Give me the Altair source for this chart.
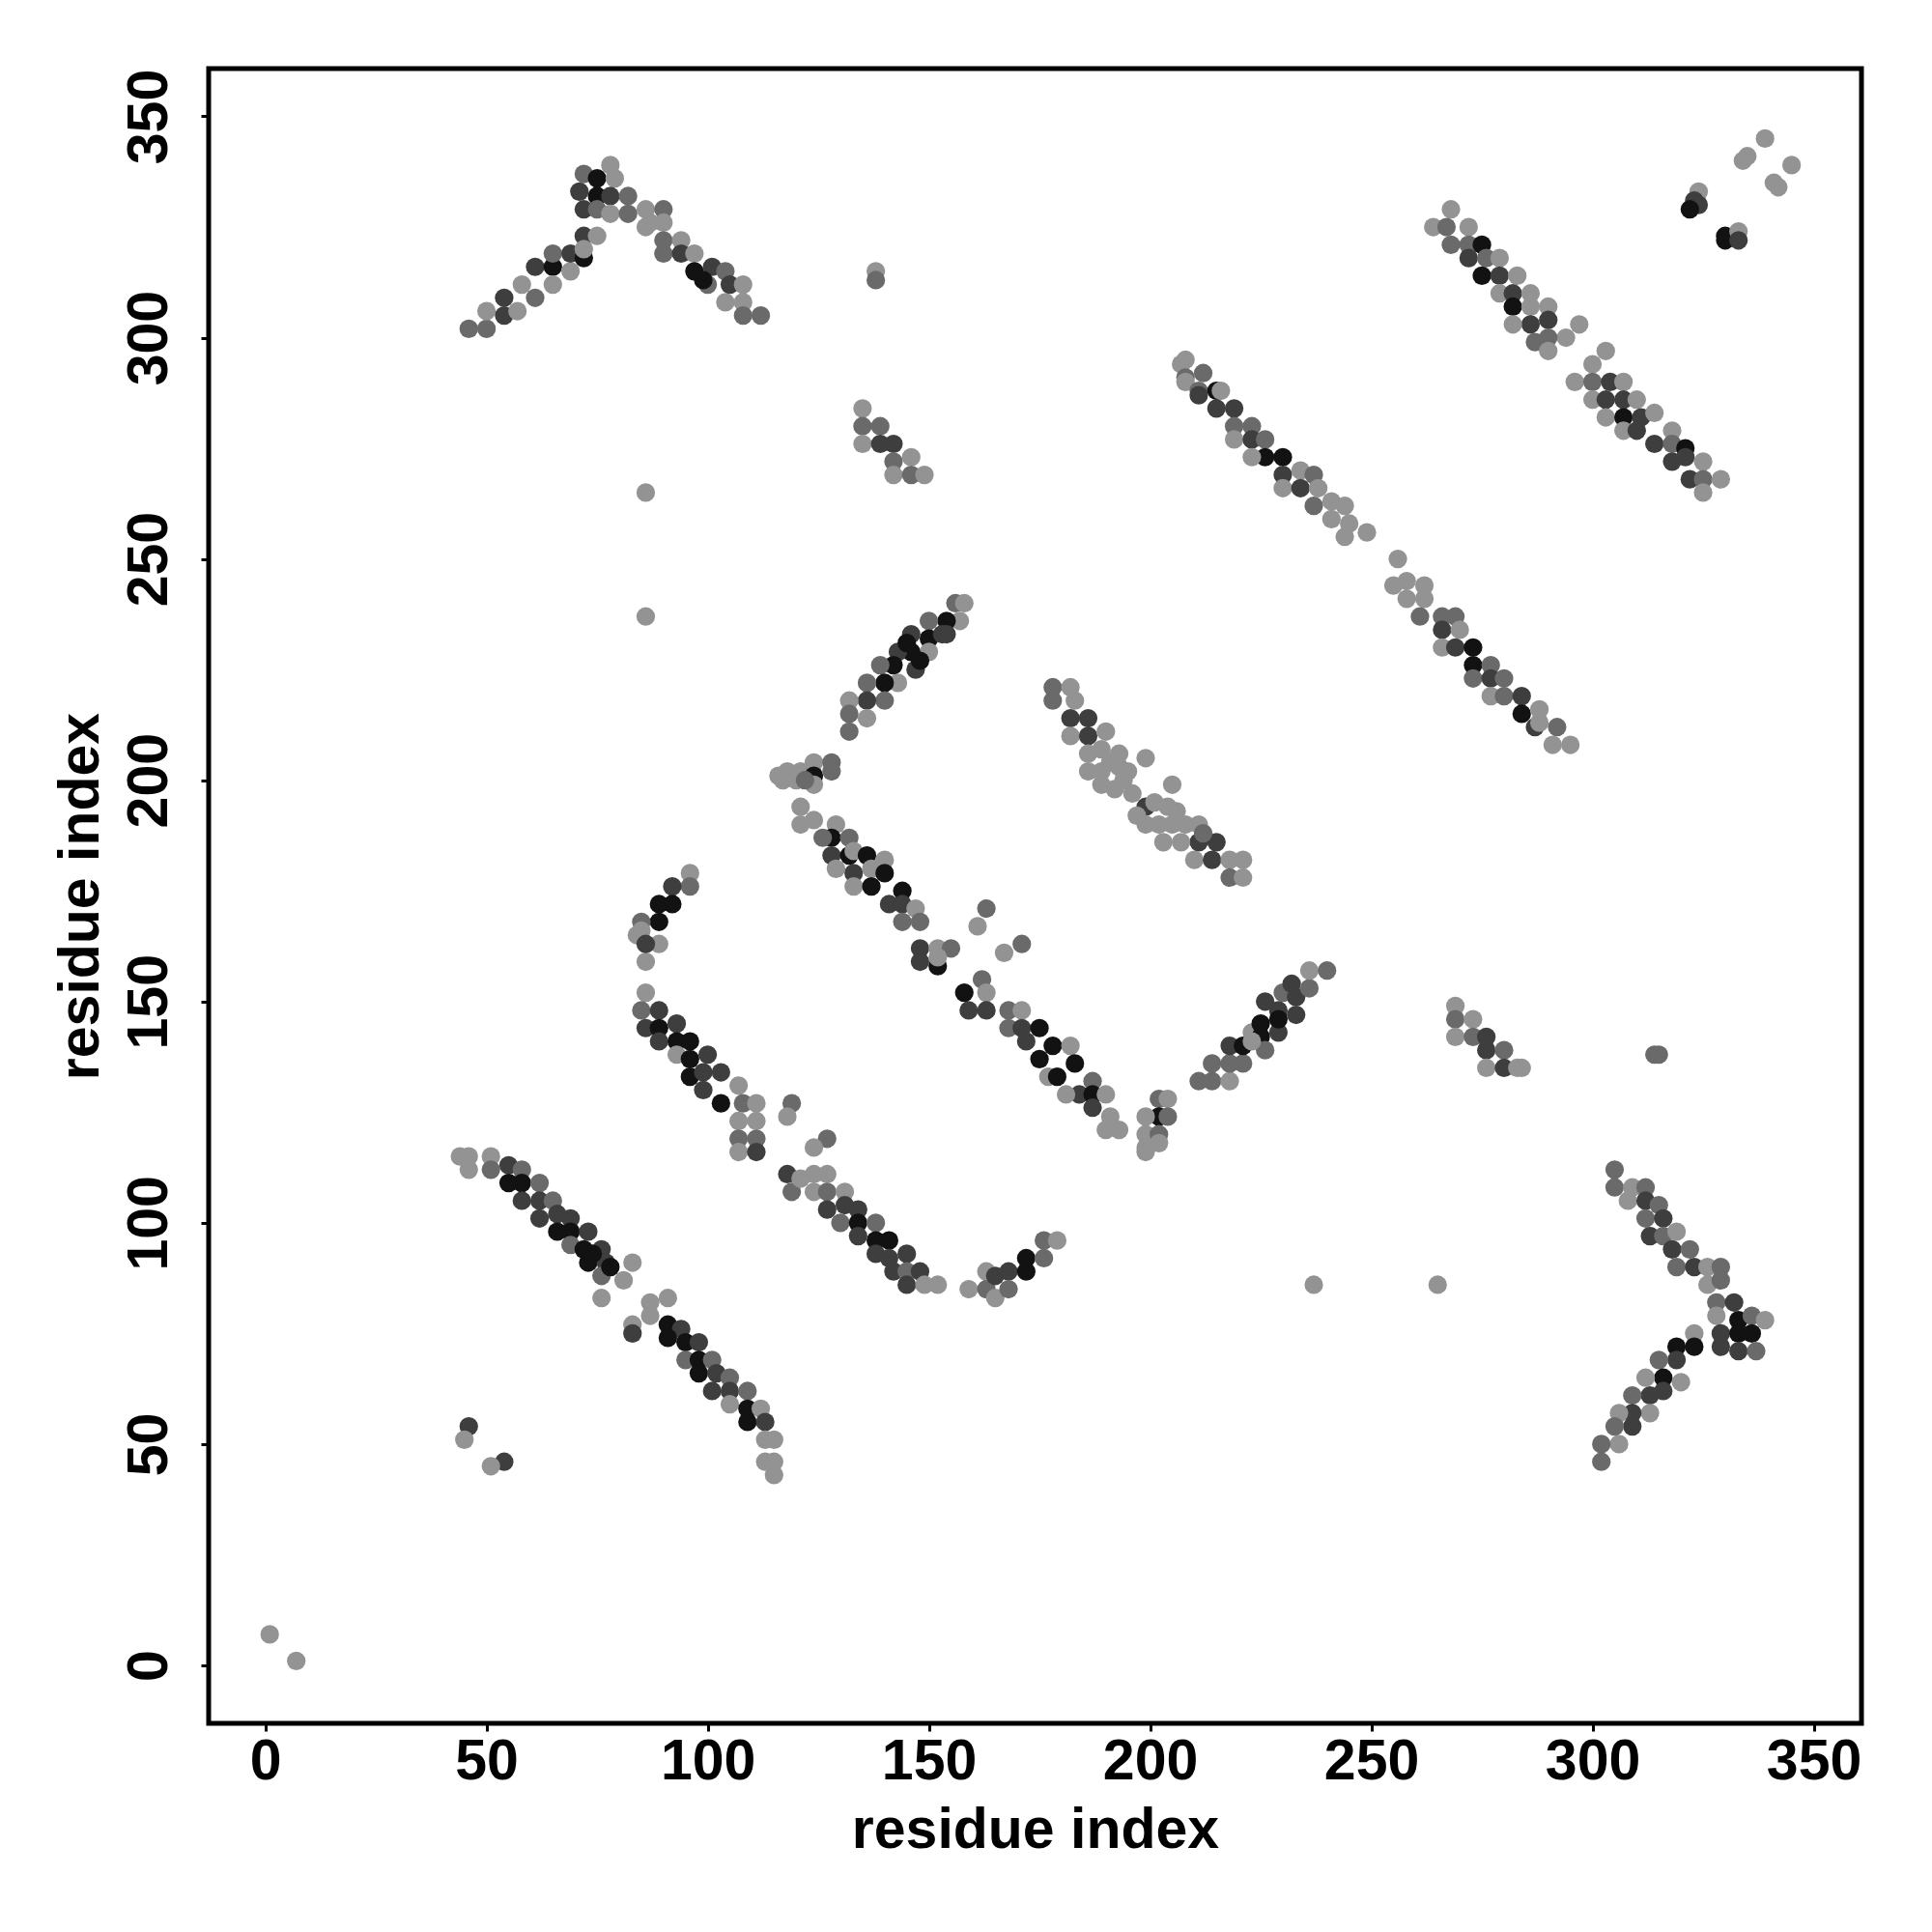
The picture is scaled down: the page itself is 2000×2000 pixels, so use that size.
import altair as alt
import pandas as pd

# contact points: (residue i, residue j, shade level 1=light .. 4=black)
c_top_left = [(46,302,2),(50,302,2),(50,306,1),(54,305,3),(54,309,3),(57,306,1),(58,312,1),(61,309,2),(61,316,3),(65,316,4),(65,319,2),(65,312,1),(69,315,1),(69,319,3),(72,318,4),(72,323,3),(75,323,1),(72,320,1),
              (72,337,2),(75,336,4),(71,333,3),(75,332,4),(78,339,1),(79,336,1),(78,332,3),(82,332,2),(72,329,3),(75,329,2),(78,328,1),(82,328,2),(86,329,1),(90,329,2),(87,326,1),(90,326,1),(86,325,1),
              (90,322,2),(90,319,2),(94,322,1),(94,319,3),(97,319,1),(97,315,4),(101,316,3),(100,312,2),(104,315,2),(105,312,3),(108,312,1),(104,308,1),(108,308,1),(108,305,2),(112,305,2),(99,313,4)]
c_small_a = [(135,284,1),(135,280,2),(135,276,1),(139,280,2),(139,276,3),(142,276,3),(142,272,2),(146,273,1),(142,269,1),(146,269,2),(149,269,1),
             (138,315,1),(138,313,2),(86,265,1),(86,237,1)]
c_diag_a = [(156,240,2),(158,240,1),(157,236,1),(154,236,4),(154,233,3),(150,236,2),(150,232,4),(146,233,3),(150,229,1),(146,229,4),(143,229,3),(147,225,3),(142,226,4),(139,226,2),(143,222,1),(140,222,4),(136,222,2),(140,218,2),(136,218,3),(132,218,1),(132,215,2),(136,214,1),(132,211,2),(153,233,3),(145,231,4),(148,227,4),
            (116,201,1),(117,200,1),(118,202,1),(119,201,1),(120,200,1),(121,202,1),(124,204,1),(124,201,4),(128,204,2),(128,202,2),(124,199,1),(122,200,2)]
c_anti_a = [(121,194,1),(121,190,1),(124,191,1),(129,190,1),(128,187,4),(126,187,2),(132,187,2),(128,183,3),(132,183,4),(133,184,1),(136,183,4),(129,180,1),(133,179,3),(133,176,1),(137,180,1),(137,176,4),(140,182,1),(140,179,4),(141,172,3),(144,175,4),(144,172,3),(147,171,1),(144,168,2),(148,168,2),(148,162,3),(152,162,1),(155,162,2),(148,159,3),(152,158,4),(152,160,1),
            (163,171,2),(161,167,1),(171,163,2),(167,161,1),
            (162,155,2),(158,152,4),(163,152,1),(159,148,3),(163,148,3),(168,148,2),(171,148,1),(168,144,2),(171,144,3),(175,144,4),(172,141,3),(175,137,4),(178,140,4),(182,140,1),(177,133,1),(179,133,4),(183,136,4),(187,132,2),(184,129,3),(181,129,1),(187,129,4),(190,129,1),(191,124,1),(193,121,1),(190,121,1),(187,126,3)]
c_hook = [(96,179,1),(96,176,2),(92,176,3),(92,172,4),(89,172,4),(89,168,4),(85,168,2),(85,166,1),(84,165,1),(89,163,1),(86,159,1),(86,163,3)]
c_anti_b = [(86,152,1),(85,148,2),(89,148,3),(86,144,3),(89,144,4),(93,145,3),(89,141,3),(93,141,4),(96,141,4),(93,138,1),(96,137,4),(100,138,3),(96,133,4),(99,134,3),(103,134,3),(99,130,3),(103,127,4),(107,131,1),(108,127,2),(111,127,1),(107,123,1),(111,123,1),(107,119,2),(111,119,2),(107,116,1),(111,116,3),(119,127,2),(118,124,1),(127,119,2),(124,117,1)]
c_anti_c = [(44,115,1),(46,115,1),(46,112,1),(51,115,1),(51,112,2),(55,113,3),(58,112,2),(55,109,4),(58,109,4),(62,109,2),(58,105,3),(62,105,3),(65,105,2),(62,101,3),(66,102,3),(69,101,3),(66,98,4),(69,98,4),(73,98,3),(69,95,2),(72,94,4),(76,94,3),(73,91,4),(77,91,3),(76,88,2),(83,91,1),(81,87,1),(76,83,1),(74,93,4),(78,90,4),
            (91,83,1),(87,82,1),(87,79,1),(83,77,1),(83,75,3),(91,77,4),(94,76,3),(91,74,4),(95,73,4),(98,73,3),(95,69,2),(98,69,4),(101,69,2),(98,66,4),(102,66,3),(105,65,2),(101,62,3),(105,62,3),(109,62,2),(105,59,1),(109,58,4),(112,58,1),(109,55,4),(113,55,3),(113,51,1),(115,51,1),(113,46,1),(115,46,1),(115,43,1),
            (46,54,3),(45,51,1),(54,46,3),(51,45,1)]
c_anti_d = [(118,111,3),(119,107,2),(124,111,1),(127,111,1),(124,107,1),(127,107,2),(131,107,1),(127,103,3),(131,104,3),(134,103,3),(130,100,2),(134,100,4),(138,100,2),(134,97,3),(138,96,4),(141,96,4),(138,93,3),(141,92,3),(145,93,3),(142,89,3),(145,89,2),(148,89,3),(145,86,3),(149,86,1),(152,86,1),(121,110,1),
            (159,85,1),(163,89,1),(163,85,2),(165,83,1),(165,88,3),(168,89,3),(168,85,2),(172,92,4),(172,89,4),(176,92,2),(176,96,2),(179,96,1)]
c_light = [(178,221,2),(182,221,1),(178,218,2),(183,218,1),(182,214,3),(186,214,3),(182,210,1),(186,210,3),(190,211,1),(186,206,1),(189,207,1),(193,206,1),(199,205,1),(186,202,1),(189,202,1),(193,203,1),(195,202,1),(189,199,1),(192,198,1),(194,200,1),(205,199,1),(199,194,3),(201,195,1),(204,194,1),(206,193,1),(199,190,1),(202,190,1),(205,190,1),(208,190,1),(211,190,1),(211,186,3),(215,186,3),(203,186,1),(207,186,1),(210,182,1),(214,182,3),(218,182,1),(221,182,1),(218,178,2),(221,178,1),(212,188,2),(196,197,1),(191,204,1),(197,192,1)]
c_mid = [(202,128,2),(204,128,1),(202,124,4),(204,124,2),(199,124,1),(199,120,1),(202,120,2),(199,117,1),(202,118,1),(199,116,1),
         (211,132,2),(214,132,2),(218,132,1),(214,136,2),(218,136,2),(221,136,2),(218,140,3),(221,140,4),(223,143,1),(225,142,4),(226,139,2),(225,145,4),(229,143,3),(229,148,3),(226,150,3),(233,147,3),(230,152,2),(233,151,3),(232,154,3),(236,153,2),(236,157,1),(240,157,2),(229,146,4),(223,141,1)]
c_long = [(208,295,1),(207,294,1),(208,291,2),(212,292,2),(208,290,1),(211,288,2),(215,288,4),(216,288,1),(211,287,3),(215,284,3),(219,284,3),(219,280,2),(219,277,1),(223,280,2),(223,277,3),(226,277,2),(226,273,4),(223,273,1),(230,273,4),(230,269,3),(230,266,1),(234,270,1),(234,266,3),(237,269,2),(238,266,1),(237,262,2),(241,263,1),(244,262,1),(241,259,1),(245,258,1),(244,255,1),(249,256,1),(256,250,1),(255,244,1),(258,245,1),(262,244,1),(258,241,1),(262,241,1),(261,237,2),(266,237,2),(269,237,2),(266,234,3),(270,234,1),(266,230,1),(269,230,3),(273,230,4),(273,226,4),(277,226,2),(273,223,2),(277,223,3),(280,223,2),(277,219,1),(280,219,2),(284,219,3),(284,215,4),(288,216,1),(287,212,3),(292,212,2),(291,208,1),(295,208,1),(288,213,1)]
c_top_right = [(268,329,1),(264,325,1),(267,325,2),(272,325,1),(268,321,2),(272,321,2),(275,321,4),(272,318,3),(276,318,2),(279,318,1),(275,314,4),(279,314,3),(283,314,1),(279,310,1),(282,310,3),(286,310,1),(282,307,4),(286,307,1),(290,307,1),(290,304,3),(286,303,3),(282,303,1),(297,303,1),(294,300,1),(290,300,2),(287,299,2),(290,297,1),(303,297,1),(300,294,1),(296,290,1),(300,290,2),(304,290,3),(307,290,1),(300,286,1),(303,286,3),(307,286,3),(310,286,1),(303,282,1),(307,282,4),(311,282,3),(314,283,1),(307,279,1),(310,279,3),(314,276,3),(318,279,1),(318,276,2),(321,275,4),(318,272,3),(321,273,3),(322,268,3),(325,272,1),(325,268,2),(329,268,1),(325,265,1),
               (324,333,1),(323,331,3),(324,330,3),(322,329,4),(330,323,4),(330,322,4),(333,324,1),(333,322,3),(335,341,1),(334,340,1),(339,345,1),(345,339,1),(341,335,1),(342,334,1)]
c_right = [(269,149,1),(269,146,2),(273,146,1),(269,142,1),(273,142,2),(276,142,3),(276,139,3),(280,139,2),(276,135,1),(280,135,3),(284,135,1),(283,135,1),
           (314,138,2),(315,138,2),(237,86,1),(265,86,1),
           (305,112,2),(305,108,2),(309,108,1),(312,108,2),(308,105,1),(312,105,3),(315,104,2),(312,101,2),(316,101,3),(313,97,3),(316,97,2),(319,98,1),(318,94,3),(322,94,2),(319,90,2),(323,90,3),(326,90,1),(329,90,2),(326,86,1),(329,87,2),(328,82,2),(332,82,3),(328,79,1),(333,78,4),(336,79,2),(339,78,1),(329,75,3),(333,75,4),(336,75,4),(329,72,3),(333,71,3),(337,71,2),
           (323,75,1),(323,72,4),(319,72,4),(319,69,3),(315,69,2),(316,65,4),(320,64,1),(312,65,1),(316,62,3),(313,61,3),(309,61,2),(313,57,1),(309,57,3),(306,57,1),(309,54,3),(305,54,2),(306,50,1),(302,50,2),(302,46,2),
           (1,7,1),(7,1,1)]

groups = [c_top_left, c_small_a, c_diag_a, c_anti_a, c_hook, c_anti_b, c_anti_c,
          c_anti_d, c_light, c_mid, c_long, c_top_right, c_right]
rows = [dict(i=a, j=b, g=c) for grp in groups for (a, b, c) in grp]
df = pd.DataFrame(rows)

shade_levels = [1, 2, 3, 4]
shade_colors = ["#939393", "#6a6a6a", "#3e3e3e", "#121212"]
ticks = [0, 50, 100, 150, 200, 250, 300, 350]

FONT = "Liberation Sans"

chart = alt.Chart(df).mark_circle(size=370, opacity=1).encode(
    x=alt.X("i:Q", scale=alt.Scale(domain=[-12.8, 360.8], nice=False, zero=False),
            axis=alt.Axis(values=ticks, title="residue index", grid=False, domain=False,
                          tickSize=8, tickWidth=3, tickColor="black",
                          labelFont=FONT, labelFontSize=59, labelFontWeight="bold", labelColor="black",
                          labelPadding=2, labelFlush=False,
                          titleFont=FONT, titleFontSize=59, titleFontWeight="bold", titleColor="black",
                          titleBaseline="alphabetic", titleY=128)),
    y=alt.Y("j:Q", scale=alt.Scale(domain=[-13.1, 360.8], nice=False, zero=False),
            axis=alt.Axis(values=ticks, title="residue index", grid=False, domain=False,
                          tickSize=8, tickWidth=3, tickColor="black",
                          labelFont=FONT, labelFontSize=59, labelFontWeight="bold", labelColor="black",
                          labelAngle=-90, labelAlign="center", labelBaseline="alphabetic",
                          labelPadding=36, labelFlush=False,
                          titleFont=FONT, titleFontSize=59, titleFontWeight="bold", titleColor="black",
                          titleBaseline="alphabetic", titleX=-115, titleAngle=-90)),
    color=alt.Color("g:O", scale=alt.Scale(domain=shade_levels, range=shade_colors), legend=None),
).properties(
    width=1711, height=1713,
    background="white",
    autosize=alt.AutoSizeParams(type="none"),
    padding={"left": 208, "top": 63, "right": 40, "bottom": 150},
).configure_view(stroke="black", strokeWidth=5, fill="white")

chart.save("out.html", embed_options={"renderer": "svg", "actions": False})
